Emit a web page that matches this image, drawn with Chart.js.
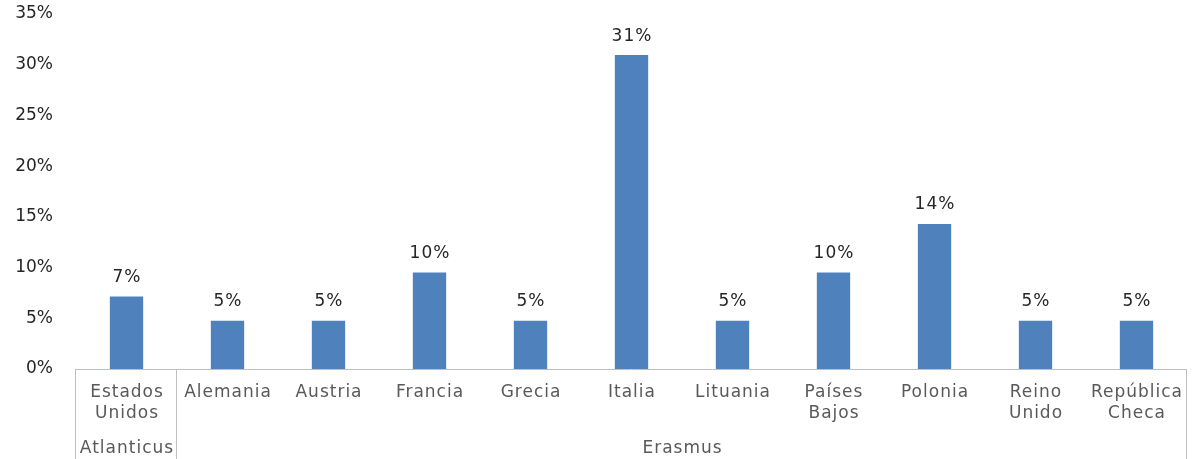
<!DOCTYPE html>
<html>
<head>
<meta charset="utf-8">
<script src="https://cdn.jsdelivr.net/npm/chart.js@4.4.0/dist/chart.umd.min.js"></script>
<style>
  html, body { margin: 0; padding: 0; background: #fff; }
  #wrap { width: 1194px; height: 459px; }
</style>
</head>
<body>
<div id="wrap"><canvas id="chart" width="1194" height="459"></canvas></div>
<script>
// categories (multi-line labels) and their program groups
const countries = [
  ['Estados', 'Unidos'], ['Alemania'], ['Austria'], ['Francia'], ['Grecia'],
  ['Italia'], ['Lituania'], ['Países', 'Bajos'], ['Polonia'], ['Reino', 'Unido'],
  ['República', 'Checa']
];
const groups = [
  { name: 'Atlanticus', from: 0, to: 0 },
  { name: 'Erasmus', from: 1, to: 10 }
];
// share of students per country (%)
const shares = [7.14, 4.76, 4.76, 9.52, 4.76, 30.95, 4.76, 9.52, 14.29, 4.76, 4.76];
const shareLabels = ['7%', '5%', '5%', '10%', '5%', '31%', '5%', '10%', '14%', '5%', '5%'];
const yTicks = [0, 5, 10, 15, 20, 25, 30, 35];

const FONT = '"DejaVu Sans", Verdana, sans-serif';
const lineColor = '#BFBFBF';

// draws value labels, category axis with group row and separators
const axisPlugin = {
  id: 'axisPlugin',
  afterDatasetsDraw(chart) {
    const { ctx, chartArea, scales } = chart;
    const x = scales.x;
    const meta = chart.getDatasetMeta(0);
    const bottom = chart.height;
    const half = (x.getPixelForValue(1) - x.getPixelForValue(0)) / 2;

    ctx.save();
    // value labels above bars
    ctx.font = '17px ' + FONT;
    ctx.letterSpacing = '1px';
    ctx.fillStyle = '#262626';
    ctx.textAlign = 'center';
    ctx.textBaseline = 'middle';
    meta.data.forEach((bar, i) => {
      ctx.fillText(shareLabels[i], bar.x + 0.5, bar.y - 19);
    });

    // axis line
    ctx.strokeStyle = lineColor;
    ctx.lineWidth = 1;
    ctx.beginPath();
    ctx.moveTo(chartArea.left, chartArea.bottom + 0.5);
    ctx.lineTo(chartArea.right, chartArea.bottom + 0.5);
    ctx.stroke();

    // group separators
    const edges = [chartArea.left];
    groups.forEach(g => edges.push(x.getPixelForValue(g.to) + half));
    ctx.beginPath();
    edges.forEach(px => {
      const xx = Math.round(px) - 0.5;
      ctx.moveTo(xx, chartArea.bottom);
      ctx.lineTo(xx, bottom);
    });
    ctx.stroke();

    // category labels
    ctx.fillStyle = '#595959';
    countries.forEach((lines, i) => {
      const cx = x.getPixelForValue(i) + 0.5;
      lines.forEach((t, j) => {
        ctx.fillText(t, cx, chartArea.bottom + 24 + j * 20.5);
      });
    });

    // group labels
    groups.forEach(g => {
      const l = x.getPixelForValue(g.from) - half;
      const r = x.getPixelForValue(g.to) + half;
      ctx.fillText(g.name, (l + r) / 2 + 0.5, chartArea.bottom + 80);
    });
    ctx.restore();
  }
};

new Chart(document.getElementById('chart'), {
  type: 'bar',
  data: {
    labels: countries,
    datasets: [{
      data: shares,
      backgroundColor: '#4F81BD',
      borderWidth: 0,
      barPercentage: 0.33,
      categoryPercentage: 1
    }]
  },
  options: {
    responsive: false,
    animation: false,
    layout: { padding: { top: 14, right: 7, left: 0, bottom: 0 } },
    plugins: {
      legend: { display: false },
      tooltip: { enabled: false }
    },
    scales: {
      x: {
        grid: { display: false },
        border: { display: false },
        ticks: { display: false },
        afterFit(scale) { scale.height = 90; }
      },
      y: {
        min: 0,
        max: 35,
        afterBuildTicks(scale) { scale.ticks = yTicks.map(v => ({ value: v })); },
        grid: { display: false, drawTicks: false },
        border: { display: false },
        ticks: {
          padding: 23,
          color: '#262626',
          font: { family: FONT, size: 17 },
          callback: v => v + '%'
        },
        afterFit(scale) {
          scale.width = 76;
          scale.paddingTop = 0;
          scale.paddingBottom = 0;
        }
      }
    }
  },
  plugins: [axisPlugin]
});
</script>
</body>
</html>
